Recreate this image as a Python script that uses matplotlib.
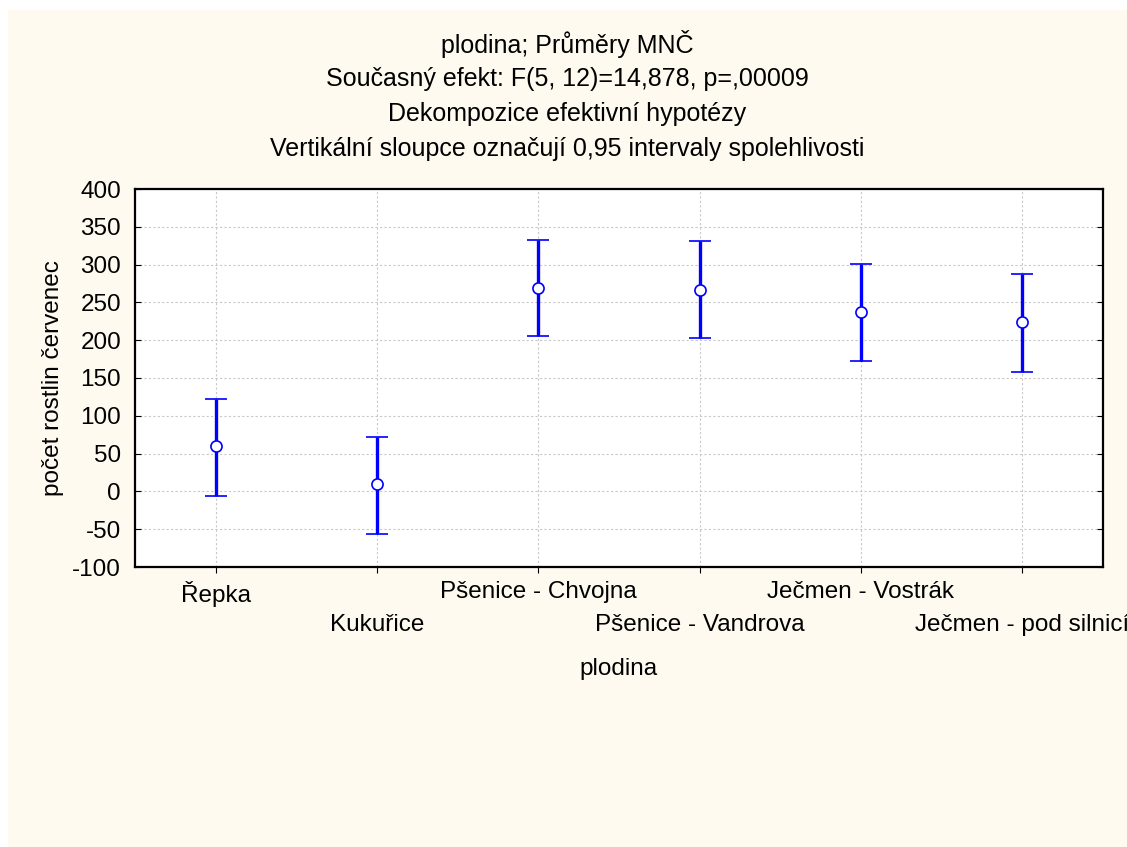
import numpy as np
import matplotlib
matplotlib.use("Agg")
import matplotlib.pyplot as plt
from matplotlib.patches import Rectangle

# Hodnoty
plodiny = ["Řepka", "Kukuřice", "Pšenice - Chvojna", "Pšenice - Vandrova",
           "Ječmen - Vostrák", "Ječmen - pod silnicí"]
prumery = [60, 10, 269, 266, 237, 224]
horni = [122, 72, 333, 331, 301, 287]
dolni = [-6, -56, 205, 203, 172, 158]

titulky = ["plodina; Průměry MNČ",
           "Současný efekt: F(5, 12)=14,878, p=,00009",
           "Dekompozice efektivní hypotézy",
           "Vertikální sloupce označují 0,95 intervaly spolehlivosti"]

plt.rcParams['font.family'] = ['Liberation Sans', 'DejaVu Sans']
plt.rcParams['axes.unicode_minus'] = False

fig = plt.figure(figsize=(11.27, 8.47), dpi=100, facecolor='white')
# krémové pozadí (jako ve Statistice)
fig.patches.append(Rectangle((8 / 1127, 0), 1, 1 - 10 / 847, transform=fig.transFigure,
                             facecolor='#fffaf0', edgecolor='none', zorder=-10))

ax = fig.add_axes([135 / 1127, 1 - 567 / 847, (1103 - 135) / 1127, (567 - 189) / 847])
ax.set_facecolor('white')

x = np.arange(len(plodiny))
prumery = np.array(prumery)
yerr = [prumery - np.array(dolni), np.array(horni) - prumery]
ax.errorbar(x, prumery, yerr=yerr, fmt='o', color='#0000ff', ecolor='#0000ff',
            elinewidth=2.4, capsize=8, capthick=2.4, markersize=8,
            markerfacecolor='white', markeredgecolor='#0000ff', markeredgewidth=1.2,
            zorder=3)

ax.set_xlim(-0.5, 5.5)
ax.set_ylim(-100, 400)
ax.set_yticks(np.arange(-100, 401, 50))
ax.set_xticks(x)
ax.set_xticklabels(plodiny, fontsize=17.5)
ax.tick_params(axis='y', labelsize=17.5, direction='in', length=4, right=True, pad=10)
ax.tick_params(axis='x', direction='out', length=4, pad=6)
for i, t in enumerate(ax.xaxis.get_major_ticks()):
    if i % 2 == 1:
        t.set_pad(6 + 24)

ax.grid(True, color='#c8c8c8', linestyle=(0, (2, 2)), linewidth=0.8)
ax.set_axisbelow(True)
for s in ax.spines.values():
    s.set_linewidth(1.6)
    s.set_color('black')

ax.set_xlabel('plodina', fontsize=17.5, labelpad=16)
ax.set_ylabel('počet rostlin červenec', fontsize=17.5, labelpad=6)

for i, t in enumerate(titulky):
    fig.text(0.503, 1 - (44 + 35 * i) / 847, t, ha='center', va='center', fontsize=18)

fig.savefig('out.png', dpi=100, facecolor=fig.get_facecolor())
